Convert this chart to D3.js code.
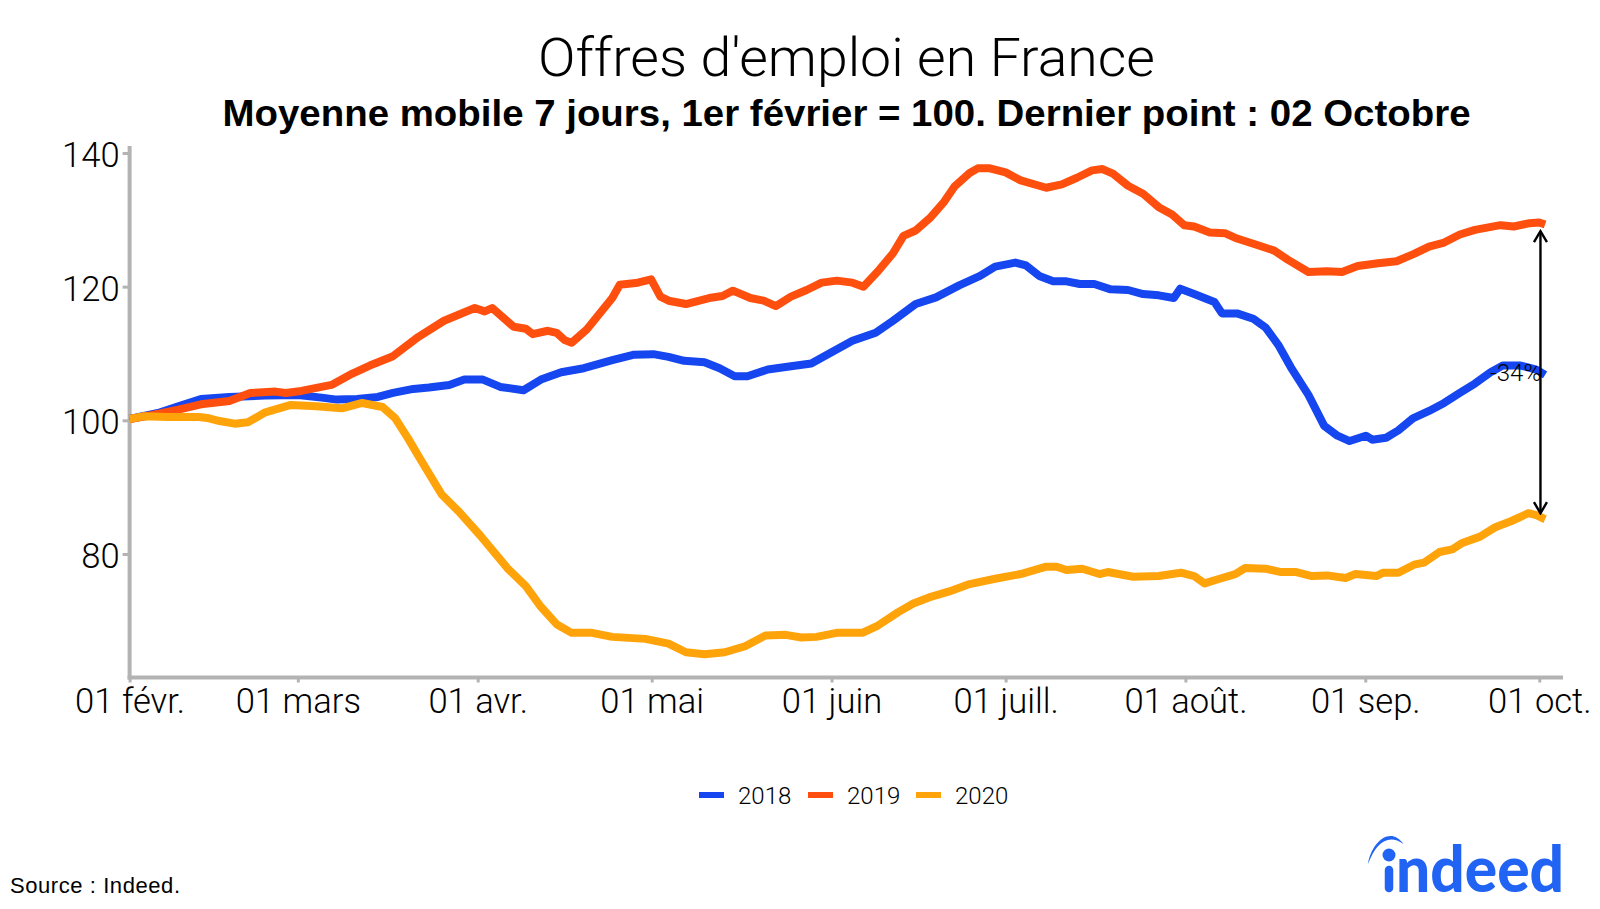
<!DOCTYPE html>
<html>
<head>
<meta charset="utf-8">
<script src="https://cdn.jsdelivr.net/npm/d3@7"></script>
<style>
  body { margin: 0; background: #fff; }
  svg { display: block; }
  text { font-family: "Roboto", "Liberation Sans", sans-serif; font-weight: 300; fill: #000; }
</style>
</head>
<body>
<svg id="chart" width="1600" height="909"></svg>
<script>
// day = days since 1 Feb
const days2018 = [0,4.9,8.4,12.3,17.2,23.4,29,33.1,35.7,39.2,42.8,45.4,48.9,51.6,55.1,57.7,60.9,63.9,67.9,70.9,74.4,78.3,83.2,86.8,90.3,92.9,95.6,99.1,101.7,104.3,106.5,110,114,117.5,121,124.6,128.6,131.6,135.5,139,143,146.6,149.2,152.7,154.5,156.8,159.2,161.5,163.8,166.3,169.1,172.1,174.7,177.4,180,181.1,183.5,187,188.3,190.9,193.7,195.8,198,200.2,203.2,205.9,208.2,210.3,213.1,214.2,216.6,218.7,221.2,224,226.6,229.3,231.9,234.6,236.7,239.8,242.5,244];
const values2018 = [100.2,101.1,102.1,103.2,103.5,103.7,103.8,103.4,103.1,103.2,103.5,104.1,104.7,104.9,105.3,106.1,106.1,105,104.5,106.1,107.2,107.8,109,109.8,109.9,109.5,108.9,108.7,107.8,106.6,106.6,107.6,108.1,108.5,110.2,111.9,113.1,114.9,117.4,118.4,120.2,121.6,123,123.6,123.2,121.6,120.8,120.8,120.4,120.4,119.6,119.5,118.9,118.7,118.3,119.7,118.9,117.7,116,116,115.2,113.9,111.3,107.9,103.8,99.2,97.7,96.9,97.7,97.1,97.4,98.5,100.3,101.4,102.6,104.1,105.5,107.2,108.2,108.2,107.6,106.8];

const days2019 = [0,4,8.4,12.3,17.2,20.8,25.2,26.9,29.6,34.8,38.4,41.4,45.4,49.8,54.2,59.5,61.2,62.5,66.2,68.3,69.5,72.1,73.6,75,76.2,78.8,83.2,84.5,87.6,89.9,91.5,92.9,95.9,99.9,102.2,104,107,109.3,111.4,114,116.7,119.3,121.9,124.6,126.5,129,131.6,133.4,135.5,138.1,140.4,142.2,144.8,146.2,148.3,151,153.6,158,160.7,163.3,165.9,167.7,169.5,172.1,174.7,177.4,179.7,181.8,183.5,186.2,188.8,190.9,194.1,197.3,199.7,203.2,206.4,209,211.7,215.2,218.4,221.4,224,226.6,229.3,231.9,236.3,238.6,241.3,243,244];
const values2019 = [100.2,100.8,101.6,102.4,102.9,104.1,104.3,104.1,104.4,105.3,107,108.2,109.6,112.5,114.9,116.8,116.3,116.8,114,113.7,112.9,113.4,113.1,112,111.6,113.6,118.3,120.3,120.6,121.1,118.5,117.9,117.4,118.3,118.6,119.4,118.3,117.9,117.1,118.5,119.5,120.6,120.9,120.6,120,122.3,125,127.6,128.4,130.4,132.7,135,137,137.7,137.7,137.1,135.9,134.8,135.3,136.3,137.4,137.6,136.9,135.1,133.9,131.9,130.8,129.2,129,128.1,128,127.2,126.3,125.4,124,122.2,122.3,122.2,123.1,123.5,123.8,124.9,126,126.6,127.8,128.5,129.2,129,129.5,129.6,129.3];

const days2020 = [0,2.3,6.7,12,13.7,15.5,18.1,20.4,23.4,27.8,32.2,36.6,40.1,43.6,45.8,48,50.1,53.8,56.8,60.4,65.1,68.3,70.9,73.6,76.2,79.7,83.2,88.9,92.9,95.9,99.1,102.6,106.1,109.6,113.1,115.8,118.4,121.9,126.3,129,132.5,135.1,137.8,141.3,144.8,149.2,153.6,158,159.8,161.5,164.2,167.2,168.6,173,177.4,181.2,183.5,185.3,187.9,190.6,192.3,195.8,198.5,201.1,203.8,206.4,209.6,211.3,214.9,216.1,218.7,221.4,223.1,225.8,228,229.6,232.8,235.4,238.1,241.1,242.5,244];
const values2020 = [100.2,100.6,100.5,100.5,100.3,99.9,99.5,99.7,101.2,102.3,102.1,101.8,102.6,102,100.3,97.3,94.2,88.9,86.3,82.8,77.9,75.2,72.1,69.5,68.2,68.2,67.6,67.3,66.6,65.3,65,65.3,66.2,67.8,67.9,67.5,67.6,68.2,68.2,69.3,71.3,72.6,73.5,74.4,75.5,76.3,77,78.1,78.1,77.6,77.8,77,77.3,76.6,76.7,77.2,76.7,75.6,76.3,77,77.9,77.8,77.3,77.3,76.7,76.8,76.4,77,76.7,77.2,77.2,78.4,78.7,80.3,80.7,81.6,82.6,84,84.9,86.1,85.8,85.2];

const yTicks = [80, 100, 120, 140];
const monthStarts = [0, 29, 60, 90, 121, 151, 182, 213, 243];
const monthLabels = ["01 févr.", "01 mars", "01 avr.", "01 mai", "01 juin", "01 juill.", "01 août.", "01 sep.", "01 oct."];

const seriesNames = ["2018", "2019", "2020"];
const seriesColors = ["#1546f0", "#ff4f0f", "#ffa30a"];
const seriesDays = [days2018, days2019, days2020];
const seriesValues = [values2018, values2019, values2020];

const gapDay = 243.2, gapTop = 128.3, gapBottom = 86.1, gapLabel = "-34%";

const svg = d3.select("#chart");

const x = d3.scaleLinear().domain([0, 243]).range([129.6, 1539.3]);
const y = d3.scaleLinear().domain([80, 140]).range([554, 153]);
const xLeft = x(0), yBottom = 677.5;

// titres
svg.append("text").attr("x", 846.5).attr("y", 76).attr("text-anchor", "middle")
  .style("font-size", "54px").style("font-weight", 300)
  .attr("textLength", 617).attr("lengthAdjust", "spacingAndGlyphs").text("Offres d'emploi en France");
svg.append("text").attr("x", 846.5).attr("y", 125.5).attr("text-anchor", "middle")
  .style("font-family", "Liberation Sans").style("font-weight", 700).style("font-size", "37px")
  .attr("textLength", 1248).attr("lengthAdjust", "spacingAndGlyphs")
  .text("Moyenne mobile 7 jours, 1er février = 100. Dernier point : 02 Octobre");

// axes
const axisX = svg.append("g").attr("transform", `translate(0,${yBottom})`)
  .call(d3.axisBottom(x).tickValues(monthStarts).tickFormat((d, i) => monthLabels[i]).tickSize(5).tickPadding(6));
const axisY = svg.append("g").attr("transform", `translate(${xLeft},0)`)
  .call(d3.axisLeft(y).tickValues(yTicks).tickSize(7).tickPadding(3));

[axisX, axisY].forEach(g => {
  g.selectAll("line").attr("stroke", "#b3b3b3").attr("stroke-width", 3);
  g.selectAll("text").style("font-size", "34.6px").style("font-weight", 300);
});
axisY.selectAll("text").attr("dy", "0.39em");
axisX.select(".domain").attr("d", `M${xLeft - 2},0H1563`).attr("stroke", "#b3b3b3").attr("stroke-width", 4).attr("fill", "none");
axisY.select(".domain").attr("d", `M0,146V${yBottom + 2}`).attr("stroke", "#b3b3b3").attr("stroke-width", 4).attr("fill", "none");

// courbes
const line = d3.line().x(d => x(d[0])).y(d => y(d[1]));
seriesNames.forEach((name, i) => {
  svg.append("path")
    .datum(d3.zip(seriesDays[i], seriesValues[i]))
    .attr("d", line)
    .attr("fill", "none")
    .attr("stroke", seriesColors[i])
    .attr("stroke-width", 8)
    .attr("stroke-linejoin", "round");
});

// écart
svg.append("defs").selectAll("marker").data(["start", "end"]).join("marker")
  .attr("id", d => "head-" + d)
  .attr("viewBox", "-12 -8 14 16").attr("markerUnits", "userSpaceOnUse")
  .attr("markerWidth", 14).attr("markerHeight", 16).attr("orient", "auto-start-reverse")
  .append("path").attr("d", "M-11,-6.5L0,0L-11,6.5").attr("fill", "none").attr("stroke", "#000").attr("stroke-width", 2.4);
svg.append("line")
  .attr("x1", x(gapDay)).attr("x2", x(gapDay))
  .attr("y1", y(gapTop)).attr("y2", y(gapBottom))
  .attr("stroke", "#000").attr("stroke-width", 2.4)
  .attr("marker-start", "url(#head-start)").attr("marker-end", "url(#head-end)");
svg.append("text").attr("x", 1515.5).attr("y", 381).attr("text-anchor", "middle")
  .style("font-size", "24px").text(gapLabel);

// légende
const legendX = [699, 808, 916];
seriesNames.forEach((name, i) => {
  svg.append("line").attr("x1", legendX[i]).attr("x2", legendX[i] + 25).attr("y1", 795).attr("y2", 795)
    .attr("stroke", seriesColors[i]).attr("stroke-width", 6);
  svg.append("text").attr("x", legendX[i] + 39).attr("y", 804).style("font-size", "24px").text(name);
});

// source
svg.append("text").attr("x", 10).attr("y", 893)
  .style("font-family", "Liberation Sans").style("font-weight", 400).style("font-size", "22px")
  .attr("textLength", 170).text("Source : Indeed.");

// logo
const logoBlue = "#2164f3";
const logo = svg.append("g");
logo.append("line").attr("x1", 1389).attr("x2", 1389).attr("y1", 870).attr("y2", 888)
  .attr("stroke", logoBlue).attr("stroke-width", 8.5).attr("stroke-linecap", "round");
logo.append("text").attr("x", 1396).attr("y", 892)
  .style("font-family", "Lato").style("font-weight", 900).style("font-size", "64px").style("fill", logoBlue)
  .attr("textLength", 168).attr("lengthAdjust", "spacingAndGlyphs").text("ndeed");
logo.append("circle").attr("cx", 1389).attr("cy", 855).attr("r", 6.5).attr("fill", logoBlue);
logo.append("path")
  .attr("d", "M1368,864C1371,843 1390,825 1403.5,844C1388,833 1376,843 1368,864Z")
  .attr("fill", logoBlue);
</script>
</body>
</html>
